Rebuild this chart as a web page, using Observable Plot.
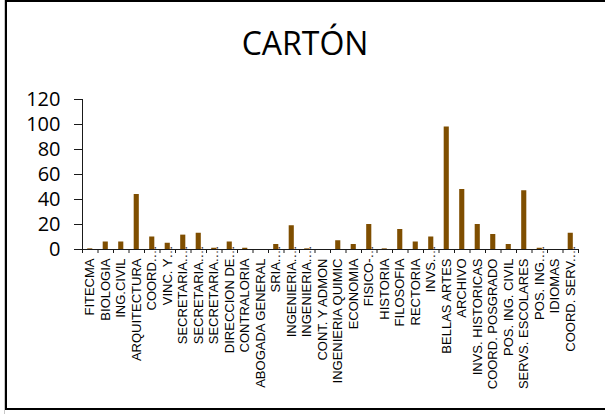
<!DOCTYPE html>
<html>
<head>
<meta charset="utf-8">
<script src="https://cdn.jsdelivr.net/npm/d3@7"></script>
<script src="https://cdn.jsdelivr.net/npm/@observablehq/plot@0.6"></script>
<style>
  body { margin: 0; background: #fff; }
  #chart { position: relative; width: 605px; height: 414px; overflow: hidden; background: #fff; }
  #edge { position: absolute; left: 4px; top: 0; width: 1px; height: 414px; background: #c8c8c8; }
  #frame { position: absolute; left: 5px; top: 0; width: 604px; height: 406px; border: 2px solid #000; }
  #title { position: absolute; left: 0; top: 27px; width: 610px; text-align: center;
           font-family: "Open Sans", sans-serif; font-size: 32px; line-height: 32px; color: #000; }
  #plot { position: absolute; left: 0; top: 0; width: 605px; height: 414px; }
  #plot svg { display: block; margin: 0; }
</style>
</head>
<body>
<div id="chart">
  <div id="edge"></div>
  <div id="frame"></div>
  <div id="title">CARTÓN</div>
  <div id="plot"></div>
</div>
<script>
// Category labels (a trailing "…" marks a name cut short on the axis)
const categories = [
  "FITECMA", "BIOLOGIA", "ING.CIVIL", "ARQUITECTURA", "COORD.…", "VINC. Y…",
  "SECRETARIA.…", "SECRETARIA.…", "SECRETARIA.…", "DIRECCION DE…", "CONTRALORIA",
  "ABOGADA GENERAL", "SRIA.…", "INGENIERIA.…", "INGENIERIA.…", "CONT. Y ADMON",
  "INGENIERIA QUIMIC", "ECONOMIA", "FISICO-…", "HISTORIA", "FILOSOFIA", "RECTORIA",
  "INVS.…", "BELLAS ARTES", "ARCHIVO", "INVS. HISTORICAS", "COORD. POSGRADO",
  "POS. ING. CIVIL", "SERVS. ESCOLARES", "POS. ING.…", "IDIOMAS", "COORD. SERV.…"
];

// Cardboard quantities per department
const values = [
  0.5, 6, 6, 44, 10, 5,
  11.5, 13, 1, 6, 1,
  0, 4, 19, 0.5, 0,
  7, 4, 20, 0.5, 16, 6,
  10, 98, 48, 20, 12,
  4, 47, 1, 0, 13
];

const yTicks = [0, 20, 40, 60, 80, 100, 120];

const barColor = "#7f4e00";
const axisColor = "#1a1a1a";
const labelFont = "'Liberation Sans', Arial, sans-serif";

const n = categories.length;
const idx = d3.range(n);
const rows = idx.map(i => ({i, v: values[i]}));
const cut = idx.filter(i => categories[i].endsWith("…"));
const label = i => categories[i].replace(/…$/, "");
const half = 0.165; // half the bar width, in category slots
const bounds = d3.range(n + 1).map(i => i - 0.5);

const chart = Plot.plot({
  width: 605,
  height: 414,
  marginLeft: 82,
  marginRight: 27,
  marginTop: 99,
  marginBottom: 165,
  style: {background: "transparent", overflow: "visible", fontFamily: labelFont, color: "#000"},
  x: {type: "linear", domain: [-0.5, n - 0.5], axis: null},
  y: {domain: [0, 120], axis: null},
  marks: [
    Plot.rectY(rows, {x1: d => d.i - half, x2: d => d.i + half, y: "v", fill: barColor}),
    // value axis
    Plot.axisY({ticks: yTicks, label: null, tickSize: 8, tickPadding: 14, fontSize: 20,
      fontFamily: "'Open Sans', sans-serif", stroke: axisColor, fill: "#000"}),
    Plot.ruleX([-0.5], {y1: 0, y2: 120, stroke: axisColor}),
    // category axis line and slot boundary ticks
    Plot.ruleY([0], {stroke: axisColor, insetLeft: -8}),
    Plot.ruleX(bounds, {y1: 0, y2: 0, insetBottom: -4, stroke: axisColor}),
    // category names, read downward from the axis
    Plot.text(idx, {x: d => d, y: 0, text: label, rotate: -90, dy: 9,
      textAnchor: "end", lineAnchor: "middle", fontSize: 13, fontFamily: labelFont, fill: "#000"}),
    // ellipses of shortened names
    Plot.text(cut, {x: d => d, y: 0, text: () => "…", rotate: -90, dy: 9,
      textAnchor: "start", lineAnchor: "middle", fontSize: 13, fontFamily: labelFont, fill: "#000"})
  ]
});

document.getElementById("plot").appendChild(chart);
</script>
</body>
</html>
